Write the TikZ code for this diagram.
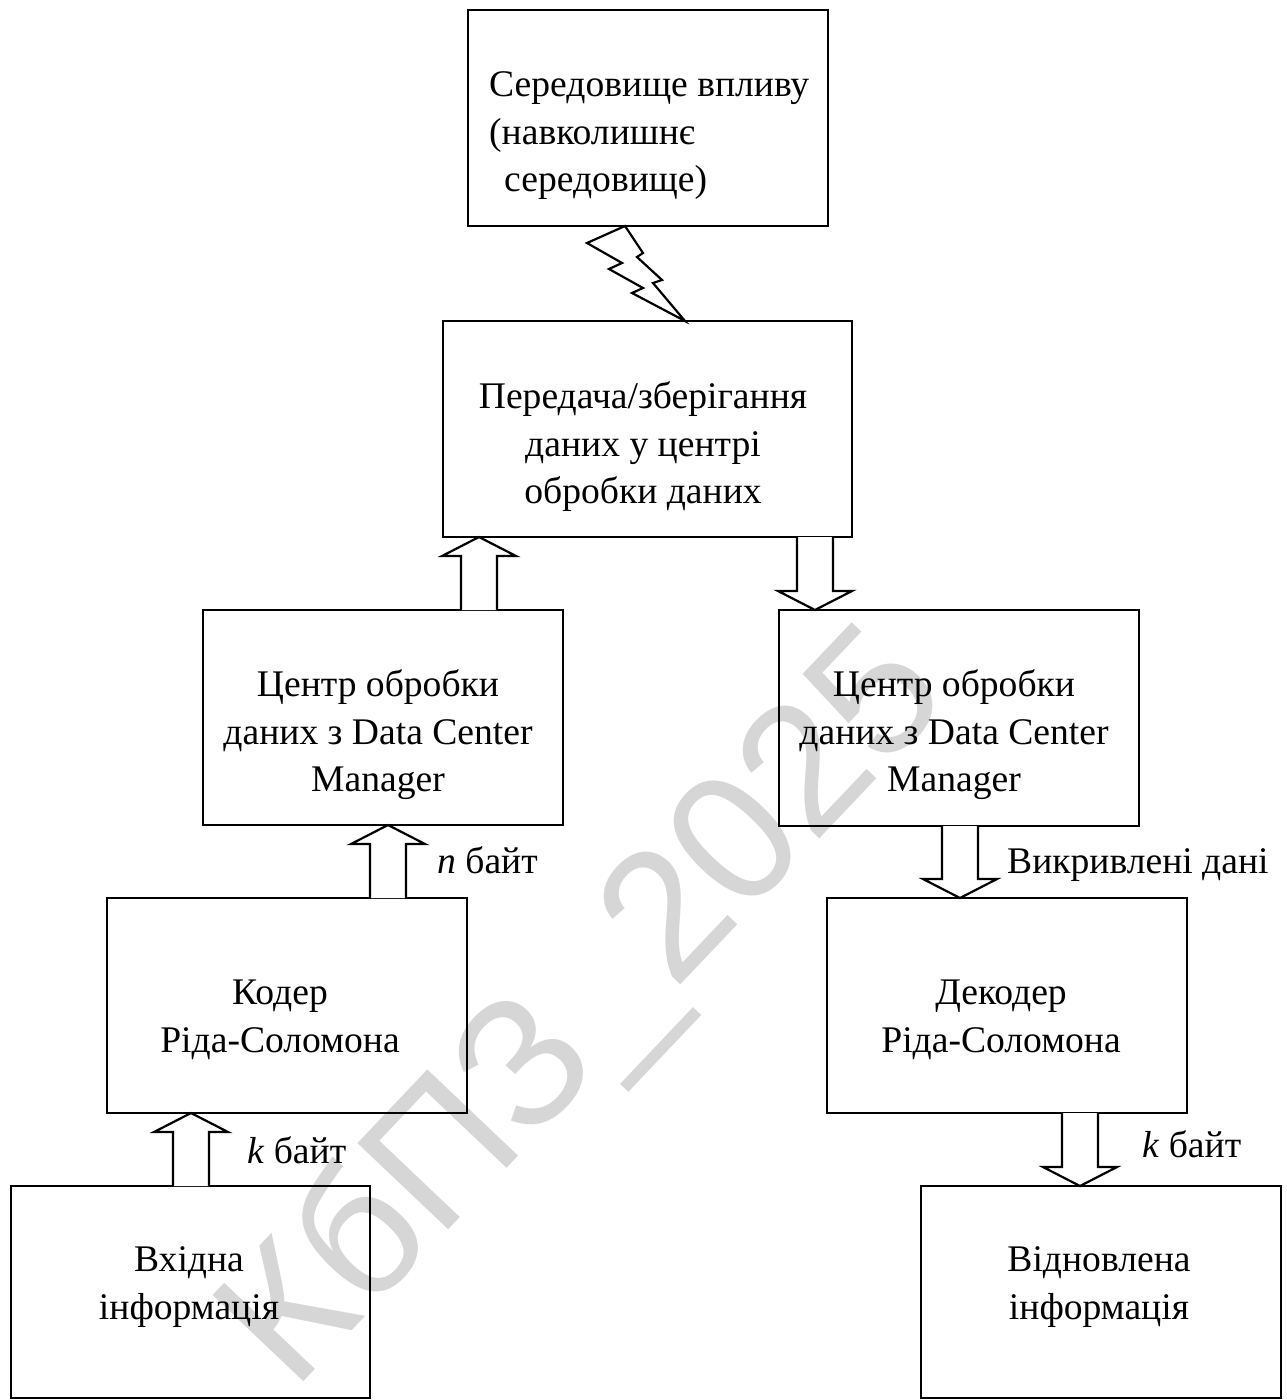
\documentclass[tikz,border=0pt]{standalone}
\usepackage{fontspec}
\setmainfont{Liberation Serif}
\newfontfamily\wmfont{Liberation Sans}
\usetikzlibrary{calc}
\tikzset{
  box/.style={draw, line width=2.4pt, inner sep=0pt, outer sep=0pt, minimum width=360pt, minimum height=216pt},
  txt/.style={align=center, inner sep=0pt, font=\fontsize{37.6}{47.5}\selectfont},
  lbl/.style={inner sep=0pt, font=\fontsize{37.6}{47.5}\selectfont, anchor=base west},
  blk/.style={draw, line width=2.2pt, line join=miter, fill=white},
  bolt/.style={draw, line width=2.2pt, line join=miter},
  wm/.style={text=black!16, font=\wmfont\fontsize{182}{182}\selectfont, rotate=46.5, inner sep=0pt}
}
% block arrow pointing up: #1 centre x (pt), #2 lower node, #3 upper node
\newcommand\blkup[3]{%
  \draw[blk] let \p1=(#2.north), \p2=(#3.south) in
    (#1pt-18pt,\y1) -- (#1pt-18pt,\y2-19pt) -- (#1pt-37pt,\y2-19pt) -- (#1pt,\y2)
    -- (#1pt+37pt,\y2-19pt) -- (#1pt+18pt,\y2-19pt) -- (#1pt+18pt,\y1);}
% block arrow pointing down: #1 centre x (pt), #2 upper node, #3 lower node
\newcommand\blkdown[3]{%
  \draw[blk] let \p1=(#2.south), \p2=(#3.north) in
    (#1pt-18pt,\y1) -- (#1pt-18pt,\y2+19pt) -- (#1pt-37pt,\y2+19pt) -- (#1pt,\y2)
    -- (#1pt+37pt,\y2+19pt) -- (#1pt+18pt,\y2+19pt) -- (#1pt+18pt,\y1);}
\begin{document}
\begin{tikzpicture}[x=1pt,y=-1pt]
\useasboundingbox (0,0) rectangle (1286,1400);
% watermark
\node[wm] (wm) at (588,1012) {КбПЗ\_2025};
% boxes
\node[box] (b1) at (648,118) {};
\node[box, minimum width=409pt] (b2) at (647.5,429) {};
\node[box, minimum height=215pt] (b3) at (383,717.5) {};
\node[box] (b4) at (959,718) {};
\node[box, minimum height=215pt] (b5) at (287,1005.5) {};
\node[box, minimum height=215pt] (b6) at (1007,1005.5) {};
\node[box, minimum width=359pt, minimum height=212pt] (b7) at (190.5,1292) {};
\node[box, minimum height=212pt] (b8) at (1101,1292) {};
% texts
\node[txt, align=left, anchor=west] (t1) at (489,136) {Середовище впливу\\(навколишнє\\\hspace*{15pt}середовище)};
\node[txt] (t2) at (643,447) {Передача/зберігання\\даних у центрі\\обробки даних};
\node[txt] (t3) at (378,735) {Центр обробки\\даних з Data Center\\Manager};
\node[txt] (t4) at (954,735) {Центр обробки\\даних з Data Center\\Manager};
\node[txt] (t5) at (280,1020) {Кодер\\Ріда-Соломона};
\node[txt] (t6) at (1001,1020) {Декодер\\Ріда-Соломона};
\node[txt] (t7) at (189,1287) {Вхідна\\інформація};
\node[txt] (t8) at (1099,1287) {Відновлена\\інформація};
% lightning
\coordinate (bs) at ([xshift=-23pt]b1.south);
\coordinate (be) at ([xshift=37.5pt]b2.north);
\draw[bolt] (bs) -- (587,243) -- (622,263) -- (609,269) -- (643,288) -- (632,293) -- (be)
  -- (653,283) -- (662,280) -- (637,257) -- (643,253) -- cycle;
% block arrows
\blkup{479}{b3}{b2}
\blkdown{815}{b2}{b4}
\blkup{388}{b5}{b3}
\blkdown{960}{b4}{b6}
\blkup{191}{b7}{b5}
\blkdown{1080}{b6}{b8}
% labels
\node[lbl] (ln) at (437,873) {\textit{n} байт};
\node[lbl] (lv) at (1007,873) {Викривлені дані};
\node[lbl] (lk1) at (247,1163) {\textit{k} байт};
\node[lbl] (lk2) at (1142,1157) {\textit{k} байт};
\end{tikzpicture}
\end{document}
